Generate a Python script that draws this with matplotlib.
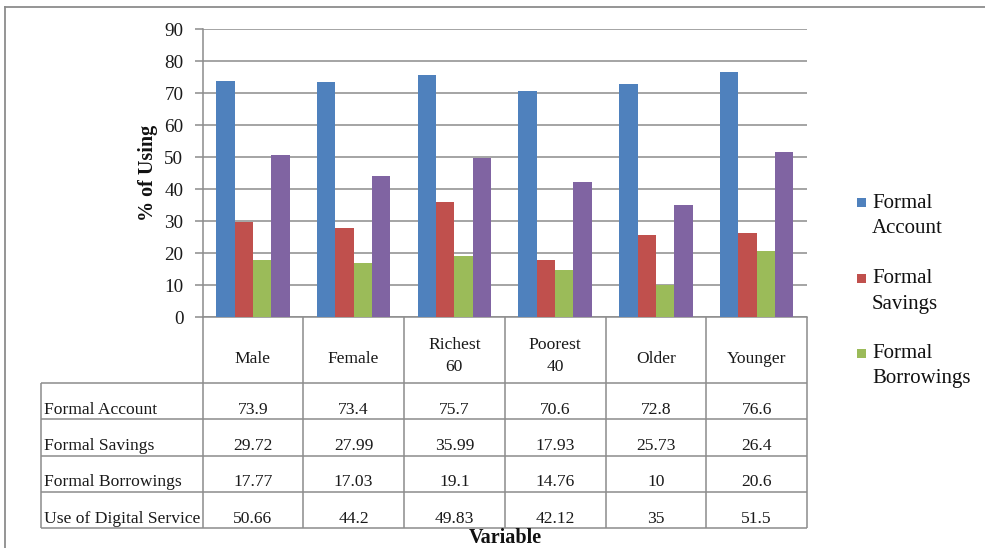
import matplotlib
matplotlib.use("Agg")
import matplotlib.pyplot as plt
from matplotlib.lines import Line2D
from matplotlib.patches import Rectangle
import numpy as np

# ---- data ----
categories = ["Male", "Female", "Richest\n60", "Poorest\n40", "Older", "Younger"]
series_names = ["Formal Account", "Formal Savings", "Formal Borrowings", "Use of Digital Service"]
formal_account = [73.9, 73.4, 75.7, 70.6, 72.8, 76.6]
formal_savings = [29.72, 27.99, 35.99, 17.93, 25.73, 26.4]
formal_borrowings = [17.77, 17.03, 19.1, 14.76, 10, 20.6]
digital_service = [50.66, 44.2, 49.83, 42.12, 35, 51.5]
legend_labels = [("Formal", "Account"), ("Formal", "Savings"), ("Formal", "Borrowings")]
yticks = [0, 10, 20, 30, 40, 50, 60, 70, 80, 90]

series = [formal_account, formal_savings, formal_borrowings, digital_service]
colors = ["#4F81BD", "#C0504D", "#9BBB59", "#8064A2"]
grid_c = "#8C8C8C"
FONT = "Liberation Serif"

W, H = 985, 548
fig = plt.figure(figsize=(W / 100, H / 100), dpi=100)
fig.patch.set_facecolor("white")

def fx(px):
    return px / W

def fy(py):
    return 1 - py / H

# plot area in pixels
L, R, T, B = 202.5, 807.0, 29.0, 317.3
ax = fig.add_axes([fx(L), fy(B), fx(R - L), (B - T) / H])
n = len(categories)
x = np.arange(n)
bw = 0.182
for k, (vals, c) in enumerate(zip(series, colors)):
    ax.bar(x + (k - 1.5) * bw, vals, width=bw, color=c, edgecolor="none", zorder=3,
           label=series_names[k])
ax.set_xlim(-0.5, n - 0.5)
ax.set_ylim(0, 90)
ax.set_yticks(yticks)
ax.set_xticks([])
ax.yaxis.grid(True, color=grid_c, linewidth=1.1, zorder=0)
for s in ["top", "right"]:
    ax.spines[s].set_visible(False)
for s in ["left", "bottom"]:
    ax.spines[s].set_color(grid_c)
    ax.spines[s].set_linewidth(1.1)
ax.tick_params(axis="y", direction="out", length=5.8, width=1.1, color=grid_c, pad=8,
               labelsize=13.8, labelcolor="#1a1a1a")
for lab in ax.get_yticklabels():
    lab.set_fontfamily(FONT)
ax.set_ylabel("% of Using", fontfamily=FONT, fontweight="bold", fontsize=14.5, color="#111111")
ax.yaxis.set_label_coords(-(L - 158) / (R - L), 0.5)

# ---- data table ----
TL, TB = 40.7, 528.3
unit = (R - L) / n
tax = fig.add_axes([fx(TL), fy(TB), fx(R - TL), (TB - B) / H])
tax.set_axis_off()
x_left = -0.5 - (L - TL) / unit
tax.set_xlim(x_left, n - 0.5)
tax.set_ylim(TB, B)
row_lines = [383.0, 419.0, 455.7, 491.7, 528.3]
lkw = dict(color=grid_c, linewidth=1.1, clip_on=False, solid_capstyle="butt")
for yl in row_lines:
    tax.plot([x_left, n - 0.5], [yl, yl], **lkw)
tax.plot([x_left, x_left], [row_lines[0], TB], **lkw)
for xb in np.arange(n + 1) - 0.5:
    tax.plot([xb, xb], [B, TB], **lkw)

tkw = dict(fontfamily=FONT, fontsize=12.6, color="#1a1a1a")
for i, cat in enumerate(categories):
    yc = 356 if "\n" in cat else 359
    tax.text(i, yc, cat, ha="center", va="center", linespacing=1.45, **tkw)
for r, (name, vals) in enumerate(zip(series_names, series)):
    yc = row_lines[r + 1] - 9.5
    tax.text(x_left + 3 / unit, yc, name, ha="left", va="center", **tkw)
    for i, v in enumerate(vals):
        tax.text(i, yc, f"{v:g}", ha="center", va="center", **tkw)

fig.text(fx(505), fy(538), "Variable", ha="center", va="center", fontfamily=FONT,
         fontweight="bold", fontsize=14.5, color="#111111")

# ---- legend (first three series, as in the reference) ----
leg_y = [203.0, 278.5, 353.5]
for (l1, l2), c, yy in zip(legend_labels, colors, leg_y):
    fig.patches.append(Rectangle((fx(857), fy(yy + 4.5)), fx(9), 9 / H, facecolor=c,
                                 edgecolor="none", transform=fig.transFigure, figure=fig))
    fig.text(fx(872), fy(yy), l1, ha="left", va="center", fontfamily=FONT, fontsize=15,
             color="#111111")
    fig.text(fx(872), fy(yy + 25.5), l2, ha="left", va="center", fontfamily=FONT, fontsize=15,
             color="#111111")

# ---- outer chart border ----
fig.add_artist(Line2D([fx(5), 1], [fy(7), fy(7)], transform=fig.transFigure, color=grid_c, lw=1.3))
fig.add_artist(Line2D([fx(5), fx(5)], [fy(7), 0], transform=fig.transFigure, color=grid_c, lw=1.3))

fig.savefig("out.png", dpi=100, facecolor="white")
